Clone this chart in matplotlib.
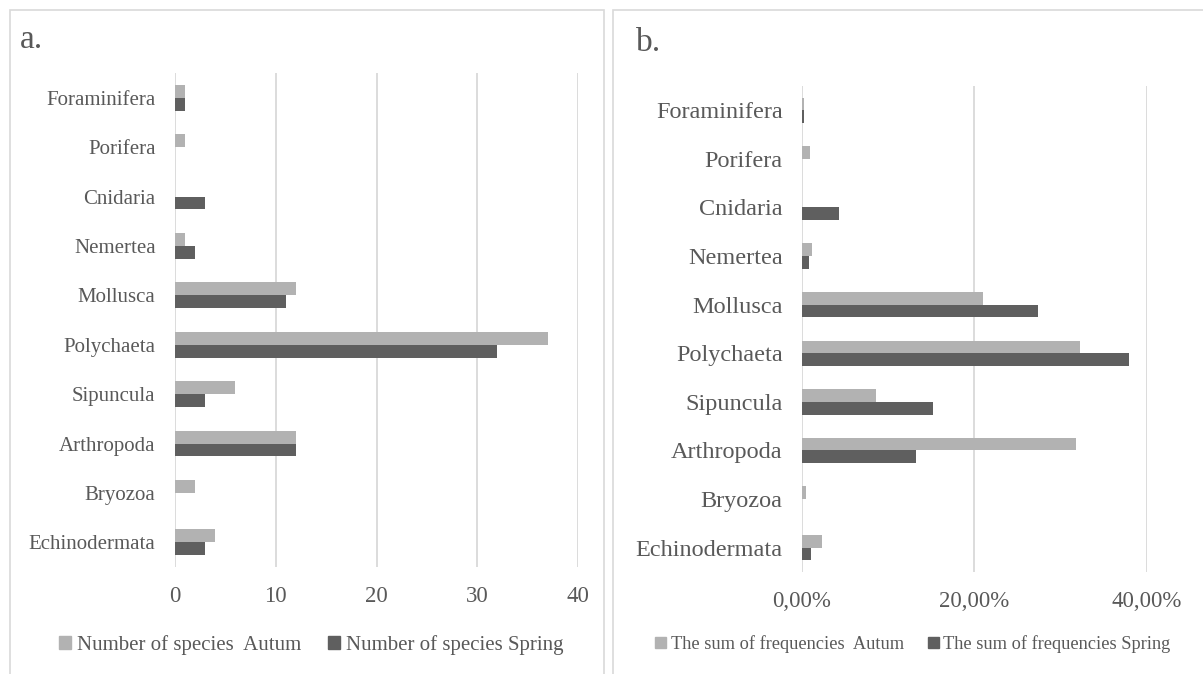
import numpy as np
import matplotlib
matplotlib.use('Agg')
import matplotlib.pyplot as plt
from matplotlib.patches import Patch, Rectangle
from matplotlib.ticker import FuncFormatter

# data
groups = ['Foraminifera', 'Porifera', 'Cnidaria', 'Nemertea', 'Mollusca',
          'Polychaeta', 'Sipuncula', 'Arthropoda', 'Bryozoa', 'Echinodermata']
species_autumn = [1, 1, 0, 1, 12, 37, 6, 12, 2, 4]
species_spring = [1, 0, 3, 2, 11, 32, 3, 12, 0, 3]
freq_autumn = [0.0023, 0.0093, 0.0, 0.0116, 0.210, 0.323, 0.0855, 0.3185, 0.0046, 0.0236]
freq_spring = [0.0025, 0.0, 0.0426, 0.008, 0.274, 0.379, 0.1525, 0.132, 0.0, 0.011]

light = '#B2B2B2'
dark = '#5F5F5F'
grid_col = '#D9D9D9'
txt_col = '#595959'
serif = ['Liberation Serif', 'DejaVu Serif']

W, H = 1203, 674
fig = plt.figure(figsize=(W / 100, H / 100), dpi=100)

# panel frames
fig.patches.append(Rectangle((10 / W, 1 - 690 / H), 594 / W, 680 / H, transform=fig.transFigure,
                             fill=False, edgecolor=grid_col, lw=1.2))
fig.patches.append(Rectangle((613 / W, 1 - 690 / H), 600 / W, 680 / H, transform=fig.transFigure,
                             fill=False, edgecolor=grid_col, lw=1.2))


def make_panel(rect, a_vals, s_vals, xmax, ticks, fmt, lab_size, tick_size):
    ax = fig.add_axes(rect)
    y = np.arange(len(groups))
    h = 0.263
    ax.barh(y - h / 2, a_vals, height=h, color=light)
    ax.barh(y + h / 2, s_vals, height=h, color=dark)
    ax.set_ylim(len(groups) - 0.5, -0.5)
    ax.set_xlim(0, xmax)
    ax.set_xticks(ticks)
    ax.xaxis.set_major_formatter(FuncFormatter(fmt))
    ax.set_yticks(y)
    ax.set_yticklabels(groups)
    ax.grid(axis='x', color=grid_col, lw=1.3)
    ax.set_axisbelow(True)
    for s in ax.spines.values():
        s.set_visible(False)
    ax.tick_params(axis='y', length=0, pad=14, labelsize=lab_size, labelcolor=txt_col)
    ax.tick_params(axis='x', length=0, pad=14, labelsize=tick_size, labelcolor=txt_col)
    for t in ax.get_xticklabels() + ax.get_yticklabels():
        t.set_family(serif)
    return ax


ax1 = make_panel([175 / W, 1 - 567 / H, 403 / W, 494 / H], species_autumn, species_spring,
                 40, [0, 10, 20, 30, 40], lambda v, p: '%d' % v, 15, 16.5)
ax2 = make_panel([802 / W, 1 - 572 / H, 344.7 / W, 486 / H], freq_autumn, freq_spring,
                 0.40, [0, 0.2, 0.4], lambda v, p: ('%.2f%%' % (v * 100)).replace('.', ','), 17.5, 16.5)

fig.text(20 / W, 1 - 40 / H, 'a.', fontsize=24, color=txt_col, family=serif, va='center')
fig.text(636 / W, 1 - 43 / H, 'b.', fontsize=24, color=txt_col, family=serif, va='center')

leg1 = fig.legend([Patch(color=light), Patch(color=dark)],
                  ['Number of species  Autum', 'Number of species Spring'],
                  loc='center', bbox_to_anchor=(311 / W, 1 - 645 / H), ncol=2, frameon=False,
                  handlelength=0.6, handleheight=0.6, handletextpad=0.25, columnspacing=1.3,
                  prop={'family': serif, 'size': 15})
leg2 = fig.legend([Patch(color=light), Patch(color=dark)],
                  ['The sum of frequencies  Autum', 'The sum of frequencies Spring'],
                  loc='center', bbox_to_anchor=(913 / W, 1 - 644 / H), ncol=2, frameon=False,
                  handlelength=0.6, handleheight=0.6, handletextpad=0.25, columnspacing=1.3,
                  prop={'family': serif, 'size': 13.2})
for leg in (leg1, leg2):
    for t in leg.get_texts():
        t.set_color(txt_col)

fig.savefig('out.png', dpi=100)
